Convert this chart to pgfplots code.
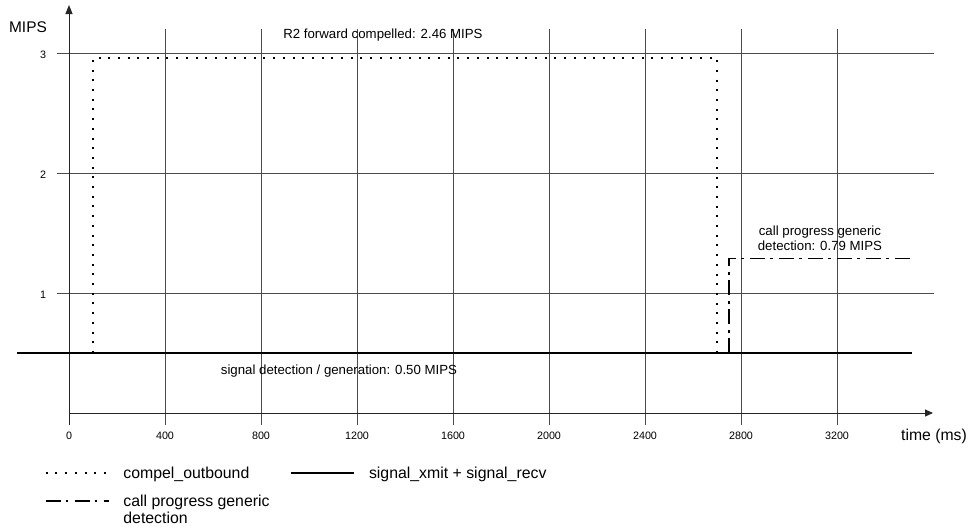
\documentclass[border=0pt]{standalone}
\usepackage{fontspec}
\setmainfont{Liberation Sans}
\usepackage{pgfplots}
\pgfplotsset{compat=1.18}
\usetikzlibrary{arrows.meta}
\definecolor{gridc}{gray}{0.3}
\begin{document}
\begin{tikzpicture}
\path[use as bounding box] (0,0) rectangle (968bp,530bp);
\begin{axis}[
  at={(0,0)}, anchor=south west,
  scale only axis, width=968bp, height=530bp,
  xmin=-287.5, xmax=3745.83, ymin=-0.975, ymax=3.4417,
  axis lines=box, axis line style={draw=none},
  clip=false,
  xtick={0,400,800,1200,1600,2000,2400,2800,3200}, ytick={1,2,3},
  xtick pos=left, ytick pos=left,
  major tick length=0pt, tick style={draw=none},
  /pgf/number format/assume math mode=true,
  /pgf/number format/1000 sep={},
  xticklabel style={anchor=base, yshift=90bp, font=\fontsize{10.8}{12}\selectfont},
  yticklabel style={anchor=base, xshift=43bp, yshift=-5bp, font=\fontsize{10.8}{12}\selectfont},
  legend columns=2,
  legend image code/.code={\draw[#1] (0bp,5bp) -- (63bp,5bp);},
  legend style={
    at={(0.04649,0.12075)}, anchor=north west,
    draw=none, fill=none, inner sep=0pt, outer sep=0pt,
    font=\fontsize{15.9}{18}\selectfont,
    cells={anchor=base west},
    nodes={inner sep=0pt, outer sep=0pt, text height=12bp, text depth=4bp},
    row sep=12bp,
    /tikz/every odd column/.append style={column sep=14bp},
    /tikz/every even column/.append style={column sep=21bp},
  },
]
% grid and axes
\draw[gridc, line width=1bp] (axis cs:400,-0.1) -- (axis cs:400,3.2);
\draw[gridc, line width=1bp] (axis cs:800,-0.1) -- (axis cs:800,3.2);
\draw[gridc, line width=1bp] (axis cs:1200,-0.1) -- (axis cs:1200,3.2);
\draw[gridc, line width=1bp] (axis cs:1600,-0.1) -- (axis cs:1600,3.2);
\draw[gridc, line width=1bp] (axis cs:2000,-0.1) -- (axis cs:2000,3.2);
\draw[gridc, line width=1bp] (axis cs:2400,-0.1) -- (axis cs:2400,3.2);
\draw[gridc, line width=1bp] (axis cs:2800,-0.1) -- (axis cs:2800,3.2);
\draw[gridc, line width=1bp] (axis cs:3200,-0.1) -- (axis cs:3200,3.2);
\draw[gridc, line width=1bp] (axis cs:-50,1) -- (axis cs:3604,1);
\draw[gridc, line width=1bp] (axis cs:-50,2) -- (axis cs:3604,2);
\draw[gridc, line width=1bp] (axis cs:-50,3) -- (axis cs:3604,3);
\draw[black!85, line width=1bp, -{Triangle[length=9bp,width=7bp]}] (axis cs:0,-0.1) -- (axis cs:0,3.4);
\draw[black!85, line width=1bp, -{Triangle[length=8bp,width=7bp]}] (axis cs:0,0) -- (axis cs:3600,0);
% data
\addplot[black, line width=1.4bp, dash pattern=on 2bp off 7.7bp] coordinates {(100,0.5) (100,2.96) (2700,2.96) (2700,0.5)};
\addlegendentry{compel\_outbound}
\addplot[black, line width=1.5bp] coordinates {(-217,0.5) (3512,0.5)};
\addlegendentry{signal\_xmit + signal\_recv}
\addplot[black, line width=1.4bp, dash pattern=on 15bp off 5bp on 2.5bp off 6.5bp] coordinates {(2750,0.5) (2750,1.29) (3505,1.29)};
\addlegendentry{\vtop{\hbox{call progress generic}\hbox{detection}}}
% labels
\node[anchor=base, font=\fontsize{15.5}{18}\selectfont] at (axis cs:-170.8,3.167) {MIPS};
\node[anchor=base, font=\fontsize{15.8}{18}\selectfont] at (axis cs:3604,-0.233) {time (ms)};
\node[anchor=base, font=\fontsize{13.3}{15}\selectfont] at (axis cs:1308,3.117) {R2 forward compelled: 2.46 MIPS};
\node[anchor=base, font=\fontsize{13.3}{15}\selectfont] at (axis cs:1125,0.325) {signal detection / generation: 0.50 MIPS};
\node[anchor=base, font=\fontsize{13.3}{15}\selectfont] at (axis cs:3129,1.483) {call progress generic};
\node[anchor=base, font=\fontsize{13.3}{15}\selectfont] at (axis cs:3129,1.358) {detection: 0.79 MIPS};
\end{axis}
\end{tikzpicture}
\end{document}
